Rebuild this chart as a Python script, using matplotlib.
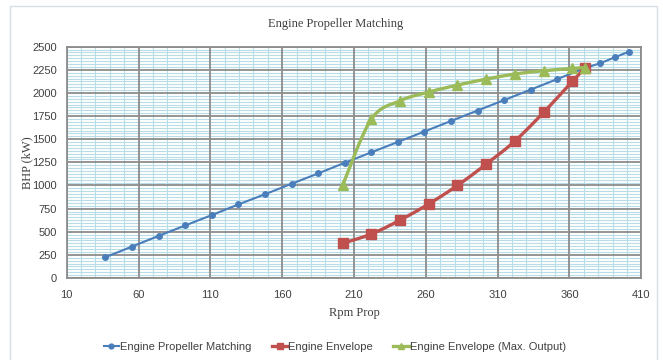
import numpy as np
import matplotlib
matplotlib.use('Agg')
import matplotlib.pyplot as plt
from matplotlib.patches import Rectangle

# propeller demand curve
prop_rpm = [37, 55.5, 74, 92.5, 111, 129.5, 148, 166.5, 185, 203.5, 222,
            240.5, 259, 277.5, 296, 314.5, 333, 351.5, 371, 381.5, 391.5, 401.5]
prop_bhp = [225, 340, 455, 568, 680, 795, 905, 1018, 1130, 1245, 1358,
            1470, 1583, 1697, 1810, 1923, 2036, 2150, 2270, 2322, 2385, 2447]

# engine limits
env_rpm = [202, 222, 242, 262, 282, 302, 322, 342, 362, 371]
env_bhp = [375, 475, 625, 800, 1000, 1230, 1480, 1790, 2125, 2275]
max_bhp = [1000, 1715, 1915, 2010, 2085, 2150, 2205, 2240, 2265, 2275]

x_ticks = [10, 60, 110, 160, 210, 260, 310, 360, 410]
y_ticks = [0, 250, 500, 750, 1000, 1250, 1500, 1750, 2000, 2250, 2500]

BLUE = '#4a7ebb'
RED = '#c0504d'
GREEN = '#9bbb59'

SERIF = ['Liberation Serif', 'DejaVu Serif']
SANS = ['Liberation Sans', 'DejaVu Sans']


def smooth(x, y, n=20):
    # catmull-rom through the points, like a spreadsheet "smoothed line"
    x = np.asarray(x, float)
    y = np.asarray(y, float)
    px = np.concatenate([[x[0]], x, [x[-1]]])
    py = np.concatenate([[y[0]], y, [y[-1]]])
    ox, oy = [], []
    t = np.linspace(0, 1, n, endpoint=False)
    for i in range(1, len(px) - 2):
        for arr, out in ((px, ox), (py, oy)):
            p0, p1, p2, p3 = arr[i - 1], arr[i], arr[i + 1], arr[i + 2]
            out.extend(0.5 * (2 * p1 + (-p0 + p2) * t
                              + (2 * p0 - 5 * p1 + 4 * p2 - p3) * t ** 2
                              + (-p0 + 3 * p1 - 3 * p2 + p3) * t ** 3))
    ox.append(x[-1])
    oy.append(y[-1])
    return ox, oy


fig = plt.figure(figsize=(6.63, 3.6), dpi=100)
ax = fig.add_axes([66.7 / 663, 1 - 278 / 360, (641.3 - 66.7) / 663, (278 - 46.7) / 360])

# chart border
fig.patches.append(Rectangle((10 / 663, -0.1), 647 / 663, 1.1 - 6 / 360,
                             transform=fig.transFigure, fill=False,
                             edgecolor='#d6dde6', linewidth=1.0))

ax.set_xlim(10, 410)
ax.set_ylim(0, 2500)
ax.set_xticks(x_ticks)
ax.set_yticks(y_ticks)

# minor grid first (light blue), then the gray major grid on top
minor_x = [v for v in np.arange(10, 411, 10) if v not in x_ticks]
minor_y = [v for v in np.arange(0, 2501, 31.25) if v not in y_ticks]
ax.vlines(minor_x, 0, 2500, color='#b7dde8', linewidth=0.8, zorder=0.2)
ax.hlines(minor_y, 10, 410, color='#b7dde8', linewidth=0.8, zorder=0.2)
ax.vlines(x_ticks, 0, 2500, color='#8c8c8c', linewidth=1.3, zorder=0.4)
ax.hlines(y_ticks, 10, 410, color='#8c8c8c', linewidth=1.3, zorder=0.4)

for s in ax.spines.values():
    s.set_color('#8c8c8c')
    s.set_linewidth(1.3)
ax.tick_params(axis='x', length=0, labelsize=8, colors='#404040', pad=9)
ax.tick_params(axis='y', length=0, labelsize=8, colors='#404040', pad=7)
for lbl in ax.get_xticklabels() + ax.get_yticklabels():
    lbl.set_family(SANS)

ax.plot(prop_rpm, prop_bhp, color=BLUE, linewidth=1.5, marker='o', markersize=4)
sx, sy = smooth(env_rpm, env_bhp)
ax.plot(sx, sy, color=RED, linewidth=2.4)
ax.plot(env_rpm, env_bhp, color=RED, linewidth=0, marker='s', markersize=7)
gx, gy = smooth(env_rpm, max_bhp)
ax.plot(gx, gy, color=GREEN, linewidth=2.4)
ax.plot(env_rpm, max_bhp, color=GREEN, linewidth=0, marker='^', markersize=6.5)

# legend proxies
h1, = ax.plot([], [], color=BLUE, linewidth=1.5, marker='o', markersize=3.5)
h2, = ax.plot([], [], color=RED, linewidth=2.4, marker='s', markersize=5)
h3, = ax.plot([], [], color=GREEN, linewidth=2.4, marker='^', markersize=5)
fig.legend([h1, h2, h3],
           ['Engine Propeller Matching', 'Engine Envelope', 'Engine Envelope (Max. Output)'],
           loc='center', bbox_to_anchor=(0.505, 1 - 347 / 360), ncol=3, frameon=False,
           prop={'family': SANS, 'size': 8}, handlelength=1.4, handletextpad=0.1,
           columnspacing=1.8, labelcolor='#404040')

fig.text(336 / 663, 1 - 24 / 360, 'Engine Propeller Matching', ha='center', va='center',
         family=SERIF, fontsize=9, color='#404040')
ax.set_xlabel('Rpm Prop', family=SERIF, fontsize=9, color='#404040', labelpad=5)
ax.set_ylabel('BHP (kW)', family=SERIF, fontsize=9, color='#404040', labelpad=-1)

fig.savefig('out.png', dpi=100)
